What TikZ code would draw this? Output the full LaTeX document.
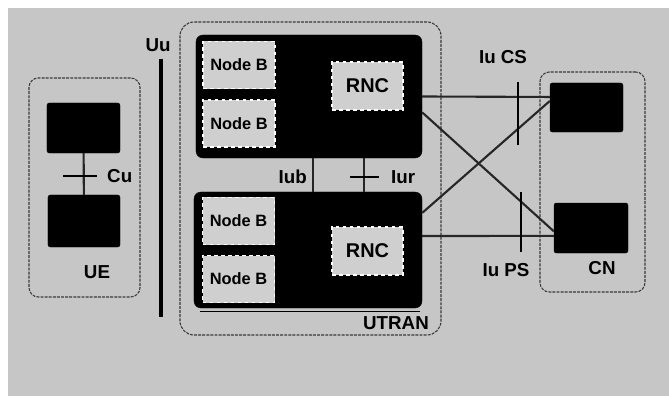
\documentclass[tikz,border=0pt]{standalone}
\usepackage{fontspec}
\setmainfont{Liberation Sans}
\usepackage{tikz}
\usetikzlibrary{positioning,calc}

\definecolor{scangray}{HTML}{C6C6C6}
\definecolor{framegray}{HTML}{3A3A3A}
\definecolor{noisegray}{HTML}{CFCFCF}

\begin{document}
\begin{tikzpicture}[x=0.03cm, y=-0.03cm,
        every node/.style={font=\bfseries\fontsize{16}{18}\selectfont, inner sep=0pt},
        darkbox/.style={fill=black, draw=black, rounded corners=2pt},
        zonebox/.style={draw=framegray, dash pattern=on 2.5pt off 1pt, line width=0.9pt, rounded corners=8pt},
        unitbox/.style={fill=noisegray, draw=white, dashed, line width=1pt,
                minimum width=2.16cm, minimum height=1.41cm, font=\bfseries\fontsize{14}{15}\selectfont},
        link/.style={line width=1.8pt, draw=black!85},
        tick/.style={line width=2.4pt}
        ]

        % ---------------- Scan background ----------------
        \fill[white] (0,0) rectangle (669,396);
        \fill[scangray] (8,8) rectangle (669,396);
        \useasboundingbox (0,0) rectangle (669,396);

        % ---------------- UE ----------------
        \node[zonebox, minimum width=3.33cm, minimum height=6.57cm] (ue) at (84.5,187.5) {};
        \node[darkbox, minimum width=2.19cm, minimum height=1.5cm]  (usim) at (83.5,128) {};
        \node[darkbox, minimum width=2.16cm, minimum height=1.56cm] (me)   at (84,221)   {};
        \node (uelabel) at (97,272) {UE};

        \draw[link] (usim) -- (me);
        \draw[tick] (63,176) -- (97,176);
        \node[anchor=west] (cu) at (107,176) {Cu};

        % ---------------- Uu air interface ----------------
        \draw[line width=2.6pt] (161,59) -- (161,317);
        \node (uu) at (158,45) {Uu};

        % ---------------- UTRAN ----------------
        \node[zonebox, rounded corners=12pt, minimum width=7.83cm, minimum height=9.39cm] (utran) at (310.5,178.5) {};
        \node[darkbox, rounded corners=6pt, minimum width=6.78cm, minimum height=3.69cm] (rantop) at (309,96.5) {};
        \node[darkbox, rounded corners=6pt, minimum width=6.84cm, minimum height=3.48cm] (ranlow) at (308,250)  {};
        \draw[line width=0.8pt] ([shift={(6,3)}]ranlow.south west) -- ([shift={(-2,3)}]ranlow.south east);
        \node (utranlabel) at (396,323) {UTRAN};

        \node[unitbox] (nodeb1) at (239,65)    {Node B};
        \node[unitbox] (nodeb2) at (239,123.5) {Node B};
        \node[unitbox] (nodeb3) at (238.5,221) {Node B};
        \node[unitbox] (nodeb4) at (238.5,279) {Node B};
        \node[unitbox, minimum width=2.13cm, minimum height=1.44cm,
              font=\bfseries\fontsize{17}{18}\selectfont] (rnc1) at (367.5,86)  {RNC};
        \node[unitbox, minimum width=2.13cm, minimum height=1.44cm,
              font=\bfseries\fontsize{17}{18}\selectfont] (rnc2) at (367.5,251) {RNC};

        % ---------------- Iub / Iur ----------------
        \coordinate (iubx) at (313,0);
        \coordinate (iurx) at (364,0);
        \draw[link] (rantop.south -| iubx) -- (ranlow.north -| iubx);
        \draw[link] (rantop.south -| iurx) -- (ranlow.north -| iurx);
        \draw[tick, line width=1.8pt] (350,177) -- (379,177);
        \node[anchor=east] (iub) at (307,177) {Iub};
        \node[anchor=west] (iur) at (391,177) {Iur};

        % ---------------- CN ----------------
        \node[zonebox, minimum width=3.15cm, minimum height=6.6cm] (cn) at (592.5,182) {};
        \node[darkbox, minimum width=2.19cm, minimum height=1.47cm] (cscore) at (586.5,107.5) {};
        \node[darkbox, minimum width=2.22cm, minimum height=1.5cm]  (pscore) at (591,228)     {};
        \node (cnlabel) at (602,268) {CN};

        % ---------------- Iu links ----------------
        \draw[link] (rantop.east) -- (cscore.164);
        \draw[link] (rantop.-8)   -- (pscore.185);
        \draw[link] (ranlow.18)   -- (cscore.170);
        \draw[link] (ranlow.7)    -- (pscore.192);
        \draw[tick] (518,82)  -- (518,145);
        \draw[tick] (521,192) -- (521,252);
        \node (iucs) at (503,57)  {Iu CS};
        \node (iups) at (506,270) {Iu PS};

    \end{tikzpicture}
\end{document}
